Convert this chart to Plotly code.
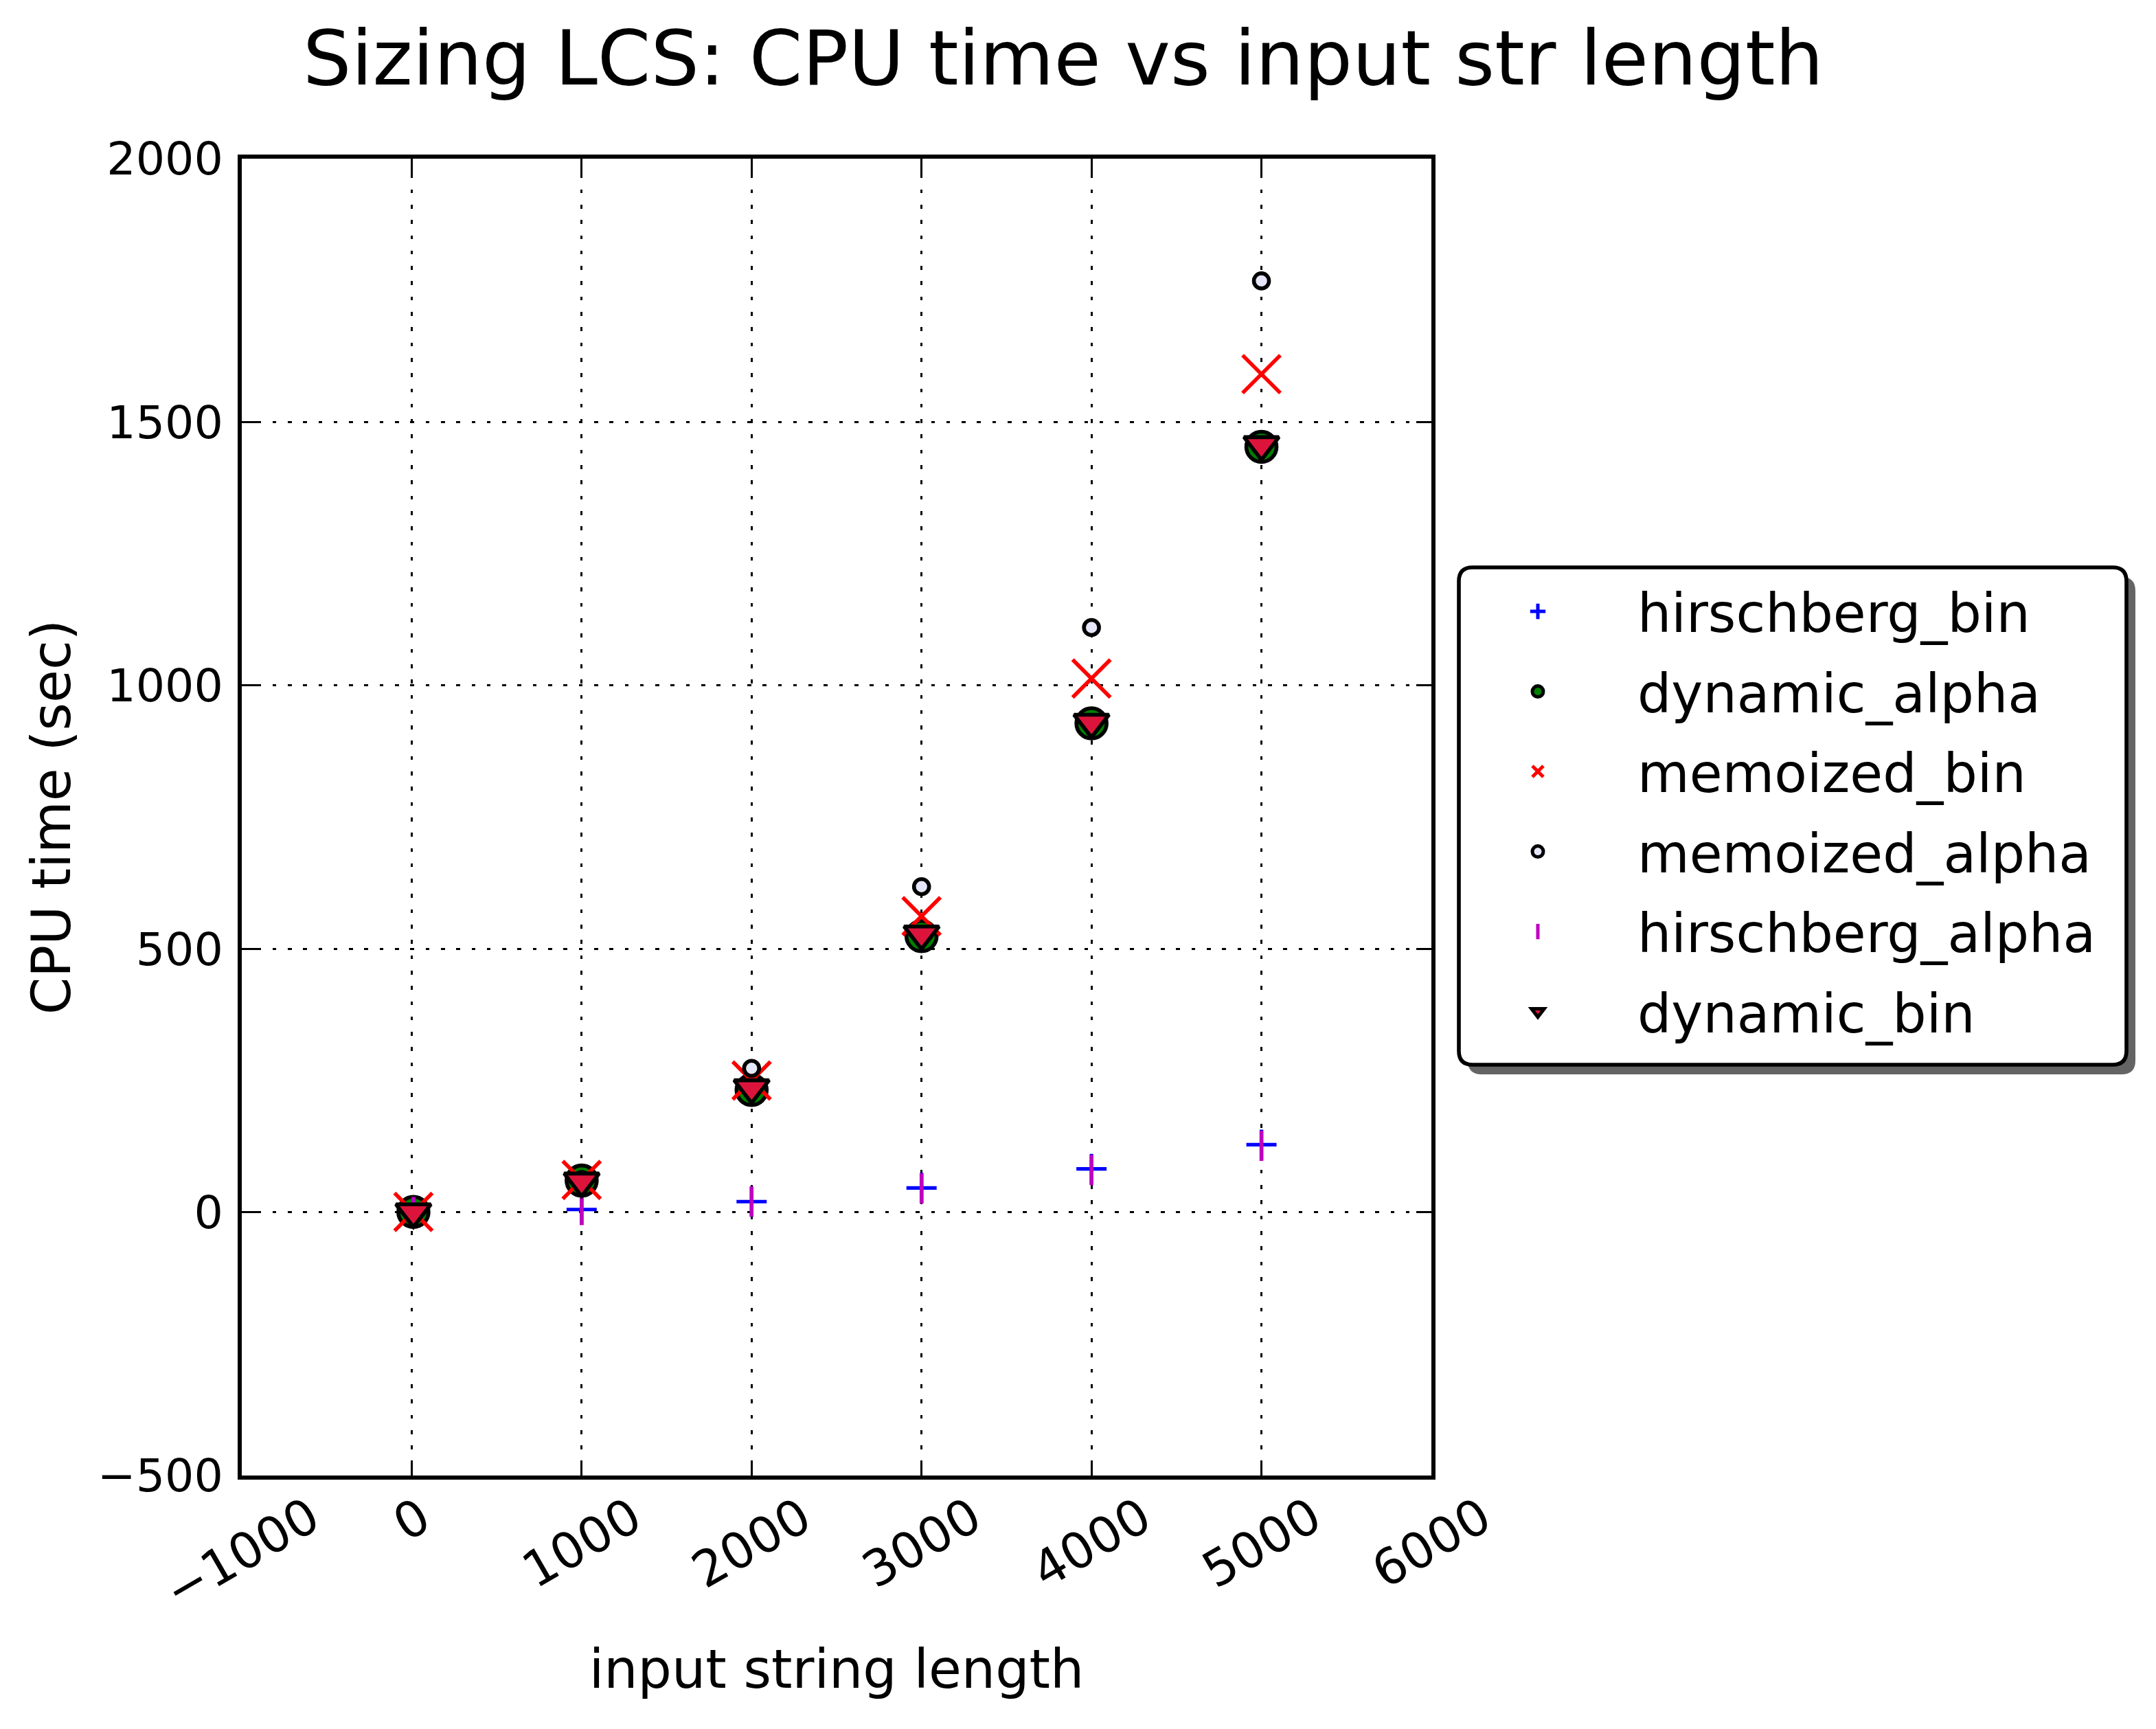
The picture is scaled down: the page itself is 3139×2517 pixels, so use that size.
import plotly.graph_objects as go

# ---------------- data ----------------
x_len = [10, 1000, 2000, 3000, 4000, 5000]
hirschberg_bin = [0.3, 5, 20, 46, 82, 128]
dynamic_alpha = [0.5, 60, 232, 524, 928, 1453]
memoized_bin = [0.5, 61, 250, 562, 1013, 1591]
memoized_alpha = [0.8, 62, 273, 618, 1110, 1768]
hirschberg_alpha = [0.3, 4, 20, 45, 80, 126]
dynamic_bin = [0.5, 59, 236, 528, 930, 1457]

x_ticks = [-1000, 0, 1000, 2000, 3000, 4000, 5000, 6000]
x_tick_labels = ["\u22121000", "0", "1000", "2000", "3000", "4000", "5000", "6000"]
y_ticks = [-500, 0, 500, 1000, 1500, 2000]
y_tick_labels = ["\u2212500", "0", "500", "1000", "1500", "2000"]

title_text = "Sizing LCS: CPU time vs input str length"
x_title = "input string length"
y_title = "CPU time (sec)"

# ---------------- geometry ----------------
W, H = 3139, 2517
PL, PR, PT, PB = 352, 2084, 231, 2148
PW, PH = PR - PL, PB - PT
FONT = "DejaVu Sans"
PT2PX = 400 / 72.0

fig = go.Figure()

def add(name, y, symbol, size, color, lcolor, lwidth):
    fig.add_trace(go.Scatter(
        x=x_len, y=y, mode="markers", name=name, legendgroup=name,
        marker=dict(symbol=symbol, size=size, color=color,
                    line=dict(color=lcolor, width=lwidth)),
    ))

add("hirschberg_bin", hirschberg_bin, "cross-thin", 31.4, "#0000FF", "#0000FF", 5.2)
add("dynamic_alpha", dynamic_alpha, "circle", 44, "#008000", "#000000", 5.6)
add("memoized_bin", memoized_bin, "x-thin", 55, "#FF0000", "#FF0000", 5.6)
add("memoized_alpha", memoized_alpha, "circle", 22, "#E6E6FA", "#000000", 5.6)
add("hirschberg_alpha", hirschberg_alpha, "line-ns", 31.4, "#BF00BF", "#BF00BF", 5.6)
add("dynamic_bin", dynamic_bin, "triangle-down", 44, "#DC143C", "#000000", 5.6)

grid = dict(showgrid=True, gridcolor="#000000", gridwidth=2.8, griddash="5.6px,16.7px",
            zeroline=False, showline=True, linecolor="#000000", linewidth=5.6,
            mirror="ticks", ticks="inside", ticklen=22, tickwidth=2.8, tickcolor="#000000")

fig.update_xaxes(range=[-1000, 6000], tickmode="array", tickvals=x_ticks,
                 showticklabels=False,
                 title=dict(text=x_title, font=dict(family=FONT, size=14 * PT2PX, color="#000"),
                            standoff=252),
                 **grid)
fig.update_yaxes(range=[-500, 2000], tickmode="array", tickvals=y_ticks, ticktext=y_tick_labels,
                 tickfont=dict(family=FONT, size=12 * PT2PX, color="#000"),
                 ticklabelstandoff=8,
                 title=dict(text=y_title, font=dict(family=FONT, size=14 * PT2PX, color="#000"),
                            standoff=16),
                 **grid)

# rotated x tick labels (centered on tick, like matplotlib)
annotations = []
for v, t in zip(x_ticks, x_tick_labels):
    annotations.append(dict(x=v, xref="x", y=0, yref="paper", text=t, showarrow=False,
                            textangle=-30, xanchor="center", yanchor="top", yshift=-13,
                            font=dict(family=FONT, size=13 * PT2PX, color="#000")))

# legend frame (rounded box with shadow)
def rrect(x0, y0, x1, y1, r):
    def px(x):
        return (x - PL) / PW
    def py(y):
        return (PB - y) / PH
    return (f"M {px(x0 + r)},{py(y0)} L {px(x1 - r)},{py(y0)} Q {px(x1)},{py(y0)} {px(x1)},{py(y0 + r)} "
            f"L {px(x1)},{py(y1 - r)} Q {px(x1)},{py(y1)} {px(x1 - r)},{py(y1)} "
            f"L {px(x0 + r)},{py(y1)} Q {px(x0)},{py(y1)} {px(x0)},{py(y1 - r)} "
            f"L {px(x0)},{py(y0 + r)} Q {px(x0)},{py(y0)} {px(x0 + r)},{py(y0)} Z")

LX0, LY0, LX1, LY1 = 2124, 826, 3096, 1550
shapes = [
    dict(type="path", xref="paper", yref="paper", path=rrect(LX0 + 13, LY0 + 14, LX1 + 13, LY1 + 14, 20),
         fillcolor="#646464", line=dict(width=0), layer="above"),
    dict(type="path", xref="paper", yref="paper", path=rrect(LX0, LY0, LX1, LY1, 20),
         fillcolor="#FFFFFF", line=dict(color="#000000", width=5.6), layer="above"),
]

fig.update_layout(
    width=W, height=H,
    margin=dict(l=PL, r=W - PR, t=PT, b=H - PB, autoexpand=False),
    paper_bgcolor="#FFFFFF", plot_bgcolor="#FFFFFF",
    font=dict(family=FONT, color="#000000"),
    title=dict(text=title_text, x=1548 / W, xref="container", xanchor="center",
               y=1 - 84 / H, yref="container", yanchor="middle",
               font=dict(family=FONT, size=20 * PT2PX, color="#000")),
    showlegend=True,
    legend=dict(x=(LX0 - 30 - PL) / PW, xanchor="left", y=0.5 + 8 / PH, yanchor="middle",
                bgcolor="rgba(0,0,0,0)", borderwidth=0,
                font=dict(family=FONT, size=14 * PT2PX, color="#000"),
                itemwidth=280, tracegroupgap=12.4, traceorder="grouped"),
    annotations=annotations,
    shapes=shapes,
)

fig.write_html("out.html", config={"displayModeBar": False},
               post_script="document.body.style.margin='0';")
